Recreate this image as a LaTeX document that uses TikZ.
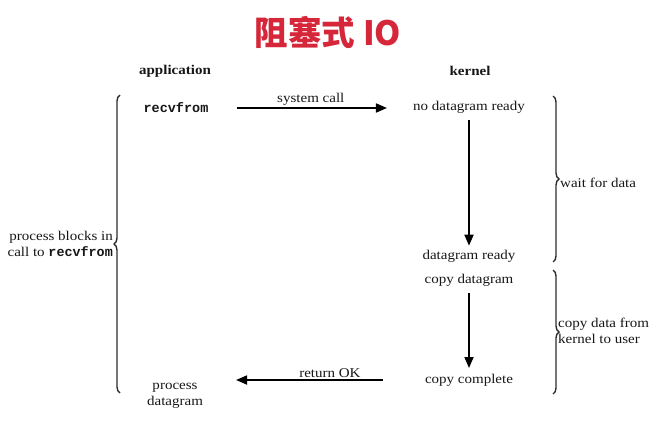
\documentclass[tikz,border=0pt]{standalone}
\usepackage{fontspec}
\setmainfont{Liberation Serif}[FakeStretch=1.12]
\setmonofont{Liberation Mono}
\newfontfamily\cjk{Noto Sans CJK SC}
\usetikzlibrary{arrows.meta,decorations.pathreplacing}
\definecolor{titlered}{RGB}{214,38,58}
\definecolor{ink}{RGB}{22,22,22}
\tikzset{
  lbl/.style={font=\fontsize{13.4}{16}\selectfont, text=ink, inner sep=1pt},
  head/.style={font=\fontsize{13.4}{16}\selectfont\bfseries, text=ink, inner sep=1pt},
  code/.style={font=\fontsize{13.5}{16}\selectfont\ttfamily\bfseries, text=ink, inner sep=1pt},
  arr/.style={draw=black, line width=1.7pt, -{Triangle[length=11pt,width=9pt]}},
  brc/.style={draw=ink!90, line width=1.4pt, decorate, decoration={brace, amplitude=6pt, aspect=0.5}},
}
\begin{document}
\begin{tikzpicture}[x=1pt,y=-1pt]
\useasboundingbox (0,0) rectangle (671,428);
% title
\node[font=\cjk\bfseries\fontsize{33.5}{38}\selectfont, text=titlered] (title) at (328,32) {阻塞式 IO};
% column headings
\node[head] (app) at (175,71) {application};
\node[head] (kern) at (470,71) {kernel};
% left column
\node[code] (recv) at (176,108) {recvfrom};
\node[lbl, align=center] (pd) at (175,396) {process\\datagram};
% kernel column
\node[lbl] (ndr) at (469,107) {no datagram ready};
\node[lbl] (dr) at (469,256) {datagram ready};
\node[lbl] (cd) at (469,280) {copy datagram};
\node[lbl] (cc) at (469,380) {copy complete};
% end point of return arrow
\coordinate (retend) at (236,380);
% connectors
\draw[arr, shorten <=27pt, shorten >=25pt] (recv.east) -- node[lbl, above=1pt] (sc) {system call} (recv.east -| ndr.west);
\draw[arr, shorten <=6pt, shorten >=3pt] (ndr.south) -- (dr.north);
\draw[arr, shorten <=6pt, shorten >=3pt] (cd.south) -- (cd.south |- 0,371);
\draw[arr, shorten <=41pt] (cc.west) -- node[lbl, above=1pt] (rok) {return OK} (retend);
% braces
\draw[brc] (553,96) -- (553,262);
\draw[brc] (553,270) -- (553,394);
\draw[brc] (120,393) -- (120,95);
\node[lbl, anchor=west] (wfd) at (559,183) {wait for data};
\node[lbl, anchor=west, align=left] (cdk) at (557,331) {copy data from\\kernel to user};
\node[lbl, anchor=east, align=right] (pb) at (114,244) {process blocks in\\call to {\ttfamily\bfseries recvfrom}};
\end{tikzpicture}
\end{document}
